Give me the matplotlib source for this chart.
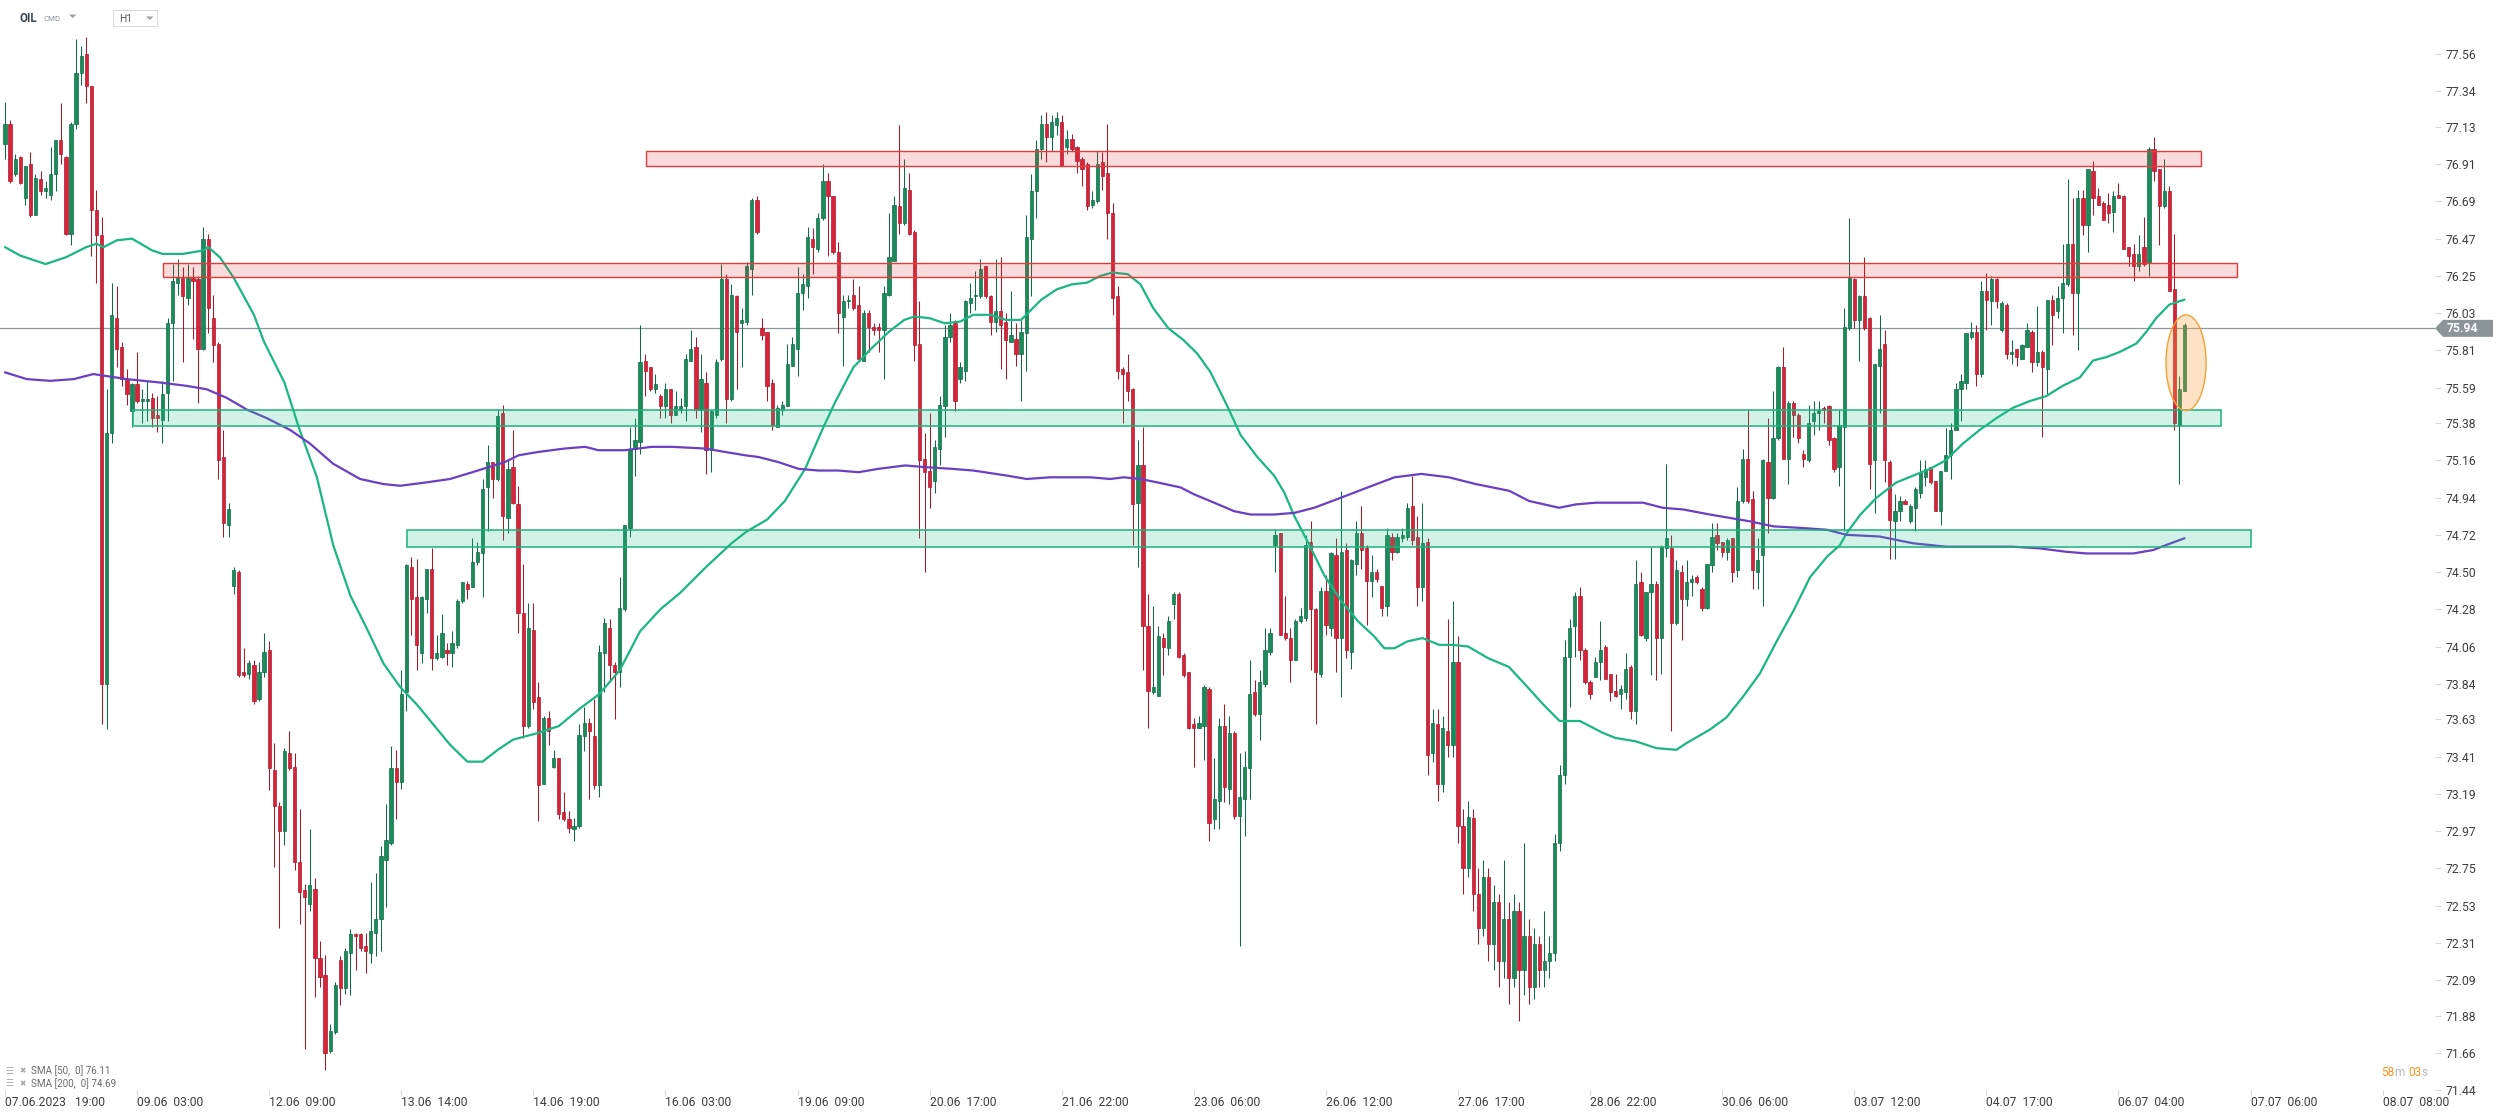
import matplotlib
matplotlib.use("Agg")
import matplotlib.pyplot as plt
import matplotlib.transforms as mtransforms
from matplotlib.patches import Rectangle, Ellipse, Polygon
import numpy as np

plt.rcParams["font.family"] = ["Roboto", "DejaVu Sans"]

# Hourly OIL candles, 07.06.2023 19:00 -> 06.07
opens = [
    77.03, 77.15, 76.85, 76.95, 76.71, 76.91, 76.61, 76.82, 76.75, 76.73,
    76.85, 77.05, 76.95, 76.50, 77.15, 77.45, 77.56, 77.37, 76.64, 76.49,
    73.84, 75.32, 76.00, 75.83, 75.64, 75.45, 75.61, 75.51, 75.51, 75.53,
    75.43, 75.40, 75.56, 75.97, 76.21, 76.24, 76.12, 76.24, 76.23, 75.82,
    76.47, 76.00, 75.85, 75.18, 74.78, 74.42, 74.50, 73.91, 73.90, 73.95,
    73.75, 73.91, 74.04, 73.33, 73.12, 72.97, 73.43, 73.35, 72.79, 72.62,
    72.54, 72.63, 72.22, 72.12, 71.67, 71.78, 72.21, 72.04, 72.25, 72.36,
    72.36, 72.29, 72.25, 72.37, 72.45, 72.80, 72.90, 73.34, 73.26, 73.79,
    74.53, 74.35, 74.02, 74.34, 74.52, 73.99, 74.00, 74.04, 74.02, 74.07,
    74.33, 74.43, 74.41, 74.56, 74.61, 75.00, 75.15, 75.05, 75.44, 74.82,
    75.12, 74.90, 74.26, 73.59, 74.16, 73.76, 73.25, 73.64, 73.35, 73.40,
    73.08, 73.04, 72.98, 73.00, 73.53, 73.61, 73.53, 73.24, 74.02, 74.17,
    73.95, 73.91, 74.28, 74.76, 75.23, 75.27, 75.75, 75.71, 75.58, 75.54,
    75.48, 75.58, 75.43, 75.46, 75.48, 75.75, 75.83, 75.46, 75.62, 75.22,
    75.43, 75.76, 76.23, 75.52, 76.13, 75.97, 75.98, 76.29, 76.70, 75.94,
    75.92, 75.62, 75.36, 75.46, 75.48, 75.72, 75.82, 76.15, 76.19, 76.47,
    76.41, 76.59, 76.81, 76.72, 76.39, 76.01, 76.10, 76.14, 76.08, 75.75,
    76.03, 75.95, 75.95, 75.93, 76.14, 76.34, 76.66, 76.56, 76.76, 76.51,
    75.85, 75.17, 75.10, 75.04, 75.23, 75.48, 75.89, 75.97, 75.64, 75.69,
    76.09, 76.13, 76.13, 76.31, 76.13, 75.98, 76.04, 75.98, 75.86, 75.88,
    75.79, 75.91, 76.47, 76.75, 77.00, 77.15, 77.07, 77.14, 77.16, 77.01,
    77.06, 77.01, 76.94, 76.91, 76.67, 76.69, 76.92, 76.86, 76.62, 76.13,
    75.70, 75.68, 75.58, 74.91, 75.13, 74.18, 73.79, 73.77, 74.11, 74.05,
    74.31, 74.37, 74.01, 73.91, 73.60, 73.58, 73.59, 73.81, 73.04, 73.15,
    73.59, 73.22, 73.55, 73.06, 73.16, 73.34, 73.79, 73.66, 73.84, 74.03,
    74.66, 74.73, 74.14, 74.11, 73.98, 74.21, 74.23, 74.68, 74.28, 73.90,
    74.39, 74.17, 74.60, 74.11, 74.63, 74.03, 74.55, 74.73, 74.64, 74.45,
    74.50, 74.42, 74.30, 74.71, 74.62, 74.70, 74.71, 74.89, 74.71, 74.41,
    74.68, 73.43, 73.60, 73.25, 73.56, 73.48, 73.97, 73.00, 72.75, 73.05,
    72.60, 72.40, 72.70, 72.30, 72.55, 72.20, 72.45, 72.10, 72.50, 72.15,
    72.35, 72.05, 72.30, 72.15, 72.20, 72.25, 72.90, 73.30, 74.00, 74.18,
    74.36, 74.04, 73.85, 73.88, 73.97, 74.06, 73.90, 73.80, 73.78, 73.79,
    73.94, 73.68, 74.44, 74.11, 74.38, 74.43, 74.11, 74.64, 74.64, 74.20,
    74.50, 74.34, 74.44, 74.47, 74.40, 74.29, 74.54, 74.72, 74.68, 74.62,
    74.70, 74.51, 74.92, 75.17, 74.93, 74.50, 74.60, 75.15, 74.94, 75.29,
    75.71, 75.17, 75.50, 75.43, 75.20, 75.16, 75.39, 75.44, 75.47, 75.48,
    75.29, 75.12, 75.36, 75.94, 76.23, 75.99, 76.13, 76.00, 75.16, 75.72,
    75.85, 75.15, 74.80, 74.86, 74.92, 74.80, 74.88, 74.97, 75.06, 75.12,
    75.04, 74.86, 75.10, 75.19, 75.34, 75.58, 75.62, 75.89, 75.92, 75.67,
    76.16, 76.10, 76.23, 75.93, 76.08, 75.79, 75.82, 75.76, 75.83, 75.92,
    75.74, 75.80, 75.70, 76.11, 76.04, 76.12, 76.20, 76.44, 76.15, 76.71,
    76.55, 76.87, 76.72, 76.68, 76.67, 76.63, 76.73, 76.72, 76.42, 76.38,
    76.31, 76.42, 76.33, 77.00, 76.88, 76.66, 76.75, 76.17, 75.37, 75.57,
]
highs = [
    77.28, 77.17, 76.97, 76.96, 76.90, 76.98, 76.85, 76.87, 76.81, 77.01,
    77.05, 77.27, 76.96, 77.16, 77.65, 77.61, 77.66, 77.37, 76.76, 76.60,
    75.58, 76.21, 76.19, 75.86, 75.70, 75.62, 75.80, 75.58, 75.63, 75.56,
    75.54, 75.63, 76.00, 76.32, 76.35, 76.30, 76.32, 76.30, 76.25, 76.54,
    76.50, 76.14, 75.86, 75.34, 74.91, 74.53, 74.51, 74.05, 73.98, 73.98,
    73.97, 74.14, 74.09, 73.49, 73.14, 73.46, 73.56, 73.43, 73.10, 72.66,
    72.98, 72.69, 72.32, 72.24, 71.83, 72.08, 72.23, 72.28, 72.39, 72.37,
    72.37, 72.37, 72.67, 72.72, 72.88, 73.13, 73.47, 73.45, 73.92, 74.55,
    74.59, 74.58, 74.36, 74.52, 74.64, 74.13, 74.25, 74.08, 74.15, 74.34,
    74.44, 74.45, 74.70, 74.68, 75.05, 75.25, 75.15, 75.46, 75.49, 75.17,
    75.34, 75.01, 74.55, 74.32, 74.32, 73.85, 73.65, 73.68, 73.45, 73.40,
    73.20, 73.09, 73.05, 73.60, 73.70, 73.64, 73.75, 74.07, 74.23, 74.22,
    73.97, 74.47, 74.78, 75.36, 75.41, 75.96, 75.79, 75.71, 75.67, 75.55,
    75.62, 75.58, 75.57, 75.53, 75.79, 75.93, 75.89, 75.79, 75.68, 75.46,
    75.76, 76.32, 76.26, 76.20, 76.14, 76.06, 76.33, 76.71, 76.72, 76.00,
    75.92, 75.64, 75.49, 75.51, 75.85, 75.89, 76.30, 76.26, 76.54, 76.53,
    76.62, 76.91, 76.86, 76.72, 76.45, 76.14, 76.14, 76.23, 76.19, 76.05,
    76.05, 75.97, 75.97, 76.19, 76.62, 76.72, 77.14, 76.94, 76.86, 76.52,
    76.10, 75.32, 75.44, 75.28, 75.54, 75.96, 76.03, 75.99, 75.74, 76.11,
    76.21, 76.28, 76.35, 76.31, 76.14, 76.35, 76.36, 76.03, 76.16, 75.97,
    75.99, 76.61, 76.85, 77.05, 77.20, 77.22, 77.20, 77.22, 77.20, 77.11,
    77.09, 77.02, 76.95, 76.92, 76.75, 76.99, 76.98, 77.15, 76.68, 76.19,
    75.71, 75.79, 75.59, 75.28, 75.36, 74.37, 74.30, 74.18, 74.14, 74.24,
    74.38, 74.38, 74.02, 73.91, 73.64, 73.65, 73.83, 73.82, 73.40, 73.64,
    73.72, 73.65, 73.56, 73.43, 73.44, 73.98, 73.86, 73.92, 74.17, 74.17,
    74.75, 74.73, 74.36, 74.17, 74.22, 74.29, 74.72, 74.80, 74.29, 74.41,
    74.48, 74.62, 74.70, 74.98, 74.67, 74.58, 74.80, 74.89, 74.66, 74.60,
    74.52, 74.42, 74.76, 74.73, 74.73, 74.76, 74.91, 75.07, 74.83, 74.91,
    74.70, 73.69, 73.69, 73.65, 74.22, 74.33, 74.12, 73.10, 73.15, 73.10,
    72.75, 72.80, 72.75, 72.65, 72.60, 72.80, 72.55, 72.60, 72.55, 72.90,
    72.45, 72.40, 72.35, 72.50, 72.35, 72.95, 73.36, 74.10, 74.22, 74.38,
    74.41, 74.05, 73.86, 74.00, 74.21, 74.07, 73.90, 73.90, 73.83, 74.02,
    73.95, 74.57, 74.50, 74.38, 74.65, 74.45, 74.66, 75.14, 74.72, 74.57,
    74.54, 74.57, 74.48, 74.48, 74.41, 74.55, 74.79, 74.79, 74.68, 74.70,
    74.70, 75.00, 75.23, 75.46, 74.98, 74.70, 75.17, 75.41, 75.57, 75.72,
    75.83, 75.51, 75.51, 75.44, 75.22, 75.49, 75.51, 75.51, 75.48, 75.49,
    75.30, 75.46, 76.06, 76.59, 76.24, 76.14, 76.36, 76.01, 75.73, 76.02,
    75.93, 75.16, 74.96, 74.95, 74.93, 74.90, 75.00, 75.16, 75.16, 75.12,
    75.04, 75.10, 75.35, 75.38, 75.62, 75.67, 75.91, 75.98, 75.96, 76.22,
    76.27, 76.25, 76.24, 76.10, 76.09, 75.87, 75.82, 75.85, 75.97, 75.93,
    76.07, 75.81, 76.11, 76.14, 76.19, 76.44, 76.82, 76.71, 76.76, 76.76,
    76.88, 76.93, 76.77, 76.69, 76.74, 76.75, 76.80, 76.73, 76.42, 76.44,
    76.49, 76.60, 77.01, 77.07, 76.88, 76.94, 76.78, 76.50, 75.66, 75.97,
]
lows = [
    76.94, 76.80, 76.84, 76.79, 76.67, 76.60, 76.61, 76.73, 76.71, 76.70,
    76.75, 76.91, 76.49, 76.43, 77.12, 77.38, 77.27, 76.37, 76.21, 73.60,
    73.57, 75.26, 75.71, 75.60, 75.49, 75.36, 75.50, 75.38, 75.39, 75.36,
    75.33, 75.26, 75.39, 75.63, 76.14, 75.74, 76.08, 75.88, 75.50, 75.81,
    75.91, 75.74, 75.05, 74.71, 74.71, 74.37, 73.88, 73.88, 73.87, 73.72,
    73.74, 73.88, 73.21, 72.76, 72.40, 72.89, 73.33, 72.74, 72.42, 71.68,
    72.50, 71.99, 72.05, 71.56, 71.66, 71.77, 71.94, 72.01, 72.00, 72.15,
    72.26, 72.13, 72.19, 72.23, 72.26, 72.52, 72.89, 73.04, 73.22, 73.68,
    74.13, 73.92, 73.96, 74.26, 73.92, 73.98, 73.99, 73.95, 73.94, 74.05,
    74.32, 74.34, 74.41, 74.54, 74.35, 74.74, 74.94, 75.04, 74.69, 74.73,
    74.90, 74.14, 73.52, 73.58, 73.69, 73.03, 73.25, 73.48, 73.34, 73.04,
    73.03, 72.96, 72.91, 72.99, 73.44, 73.16, 73.22, 73.17, 73.79, 73.85,
    73.63, 73.82, 74.27, 74.71, 75.07, 75.20, 75.54, 75.57, 75.56, 75.41,
    75.41, 75.38, 75.43, 75.44, 75.39, 75.75, 75.41, 75.33, 75.08, 75.09,
    75.41, 75.75, 75.38, 75.51, 75.58, 75.71, 75.96, 76.14, 76.50, 75.87,
    75.51, 75.34, 75.36, 75.43, 75.48, 75.72, 75.66, 76.05, 76.12, 76.26,
    76.39, 76.58, 76.37, 76.38, 75.91, 75.72, 76.06, 76.05, 75.75, 75.75,
    75.80, 75.90, 75.80, 75.64, 76.13, 76.34, 76.50, 76.55, 76.49, 75.75,
    74.70, 74.50, 74.88, 74.97, 75.13, 75.30, 75.86, 75.45, 75.62, 75.63,
    76.03, 76.05, 76.12, 76.12, 75.90, 75.92, 75.70, 75.64, 75.86, 75.72,
    75.51, 75.69, 76.13, 76.59, 76.94, 76.92, 76.99, 77.08, 76.90, 76.97,
    76.99, 76.86, 76.78, 76.64, 76.65, 76.68, 76.76, 76.47, 76.02, 75.64,
    75.38, 75.51, 74.66, 74.53, 73.92, 73.58, 73.78, 73.77, 73.89, 74.01,
    74.22, 73.99, 73.88, 73.57, 73.35, 73.58, 73.39, 72.91, 72.98, 72.98,
    73.14, 73.13, 73.04, 72.29, 72.94, 73.16, 73.65, 73.51, 73.82, 74.01,
    74.50, 74.13, 74.10, 73.85, 73.98, 74.20, 74.21, 73.92, 73.60, 73.88,
    74.13, 74.12, 73.91, 73.76, 73.99, 73.93, 74.48, 74.52, 74.19, 74.35,
    74.44, 74.24, 74.24, 74.57, 74.61, 74.68, 74.69, 74.66, 74.30, 74.33,
    73.30, 73.38, 73.15, 73.20, 73.41, 73.41, 72.90, 72.60, 72.70, 72.50,
    72.30, 72.35, 72.20, 72.15, 72.05, 72.10, 71.95, 72.05, 71.85, 72.00,
    71.95, 71.98, 72.05, 72.05, 72.10, 72.20, 72.85, 73.25, 73.70, 74.00,
    73.98, 73.84, 73.75, 73.88, 73.86, 73.87, 73.74, 73.76, 73.69, 73.75,
    73.63, 73.60, 74.12, 74.09, 73.89, 73.86, 73.90, 74.59, 73.56, 74.19,
    74.10, 74.30, 74.36, 74.43, 74.27, 74.28, 74.50, 74.63, 74.59, 74.57,
    74.44, 74.47, 74.91, 74.91, 74.40, 74.40, 74.30, 74.73, 74.93, 75.28,
    75.17, 75.02, 75.30, 75.26, 75.12, 75.15, 75.31, 75.34, 75.38, 75.25,
    75.09, 75.01, 74.74, 75.93, 75.94, 75.75, 75.93, 74.99, 74.85, 75.44,
    75.03, 74.58, 74.58, 74.80, 74.90, 74.79, 74.74, 74.94, 75.01, 75.02,
    74.86, 74.78, 75.10, 75.05, 75.34, 75.39, 75.58, 75.88, 75.60, 75.65,
    75.93, 75.96, 76.06, 75.92, 75.76, 75.73, 75.72, 75.76, 75.83, 75.68,
    75.72, 75.30, 75.55, 75.84, 76.00, 75.91, 76.19, 75.90, 75.81, 76.49,
    76.39, 76.61, 76.67, 76.58, 76.56, 76.51, 76.71, 76.41, 76.31, 76.22,
    76.28, 76.31, 76.25, 76.81, 76.43, 76.65, 76.16, 75.34, 75.02, 75.57,
]
closes = [
    77.15, 76.81, 76.94, 76.80, 76.90, 76.61, 76.83, 76.75, 76.77, 76.85,
    77.05, 76.97, 76.50, 77.15, 77.45, 77.55, 77.37, 76.64, 76.49, 73.84,
    75.32, 76.02, 75.82, 75.64, 75.55, 75.61, 75.51, 75.52, 75.52, 75.41,
    75.41, 75.55, 75.97, 76.22, 76.24, 76.13, 76.24, 76.22, 75.82, 76.47,
    76.06, 75.84, 75.16, 74.79, 74.87, 74.51, 73.89, 73.89, 73.96, 73.74,
    73.91, 74.03, 73.34, 73.12, 72.97, 73.44, 73.34, 72.79, 72.61, 72.58,
    72.65, 72.22, 72.11, 71.66, 71.79, 72.06, 72.04, 72.26, 72.36, 72.35,
    72.28, 72.26, 72.38, 72.45, 72.82, 72.92, 73.34, 73.26, 73.78, 74.54,
    74.34, 74.07, 74.35, 74.52, 73.99, 74.02, 74.14, 74.02, 74.08, 74.33,
    74.44, 74.40, 74.56, 74.62, 74.99, 75.15, 75.05, 75.42, 74.83, 75.11,
    74.91, 74.26, 73.59, 74.17, 73.73, 73.24, 73.64, 73.56, 73.40, 73.07,
    73.04, 72.99, 73.00, 73.54, 73.61, 73.56, 73.24, 74.03, 74.20, 73.95,
    73.91, 74.29, 74.78, 75.23, 75.28, 75.74, 75.69, 75.58, 75.61, 75.48,
    75.58, 75.43, 75.48, 75.48, 75.76, 75.82, 75.46, 75.64, 75.22, 75.45,
    75.74, 76.23, 75.52, 76.14, 75.92, 75.99, 76.31, 76.70, 76.51, 75.90,
    75.60, 75.37, 75.47, 75.49, 75.73, 75.85, 76.15, 76.20, 76.48, 76.42,
    76.59, 76.81, 76.72, 76.39, 76.03, 76.10, 76.11, 76.06, 75.76, 76.03,
    75.95, 75.93, 75.93, 76.15, 76.36, 76.67, 76.56, 76.77, 76.50, 75.84,
    75.16, 75.09, 75.00, 75.24, 75.49, 75.89, 75.96, 75.51, 75.71, 76.10,
    76.12, 76.14, 76.29, 76.13, 75.98, 76.04, 75.96, 75.87, 75.90, 75.79,
    75.92, 76.48, 76.75, 77.00, 77.15, 77.07, 77.16, 77.18, 76.90, 77.06,
    77.00, 76.93, 76.88, 76.66, 76.70, 76.91, 76.84, 76.62, 76.12, 75.69,
    75.67, 75.57, 74.90, 75.13, 74.18, 73.80, 73.82, 74.12, 74.06, 74.21,
    74.37, 74.00, 73.89, 73.58, 73.58, 73.61, 73.82, 73.02, 73.16, 73.59,
    73.23, 73.55, 73.06, 73.17, 73.35, 73.78, 73.66, 73.85, 74.04, 74.14,
    74.72, 74.13, 74.11, 73.98, 74.21, 74.24, 74.66, 74.28, 73.91, 74.39,
    74.19, 74.61, 74.11, 74.62, 74.04, 74.57, 74.73, 74.63, 74.45, 74.50,
    74.46, 74.29, 74.72, 74.62, 74.71, 74.72, 74.88, 74.69, 74.41, 74.67,
    73.42, 73.61, 73.25, 73.58, 73.48, 73.97, 73.00, 72.75, 73.05, 72.60,
    72.40, 72.70, 72.30, 72.55, 72.20, 72.45, 72.10, 72.50, 72.15, 72.35,
    72.05, 72.30, 72.15, 72.20, 72.25, 72.90, 73.30, 74.00, 74.17, 74.36,
    74.04, 73.85, 73.78, 73.97, 74.04, 73.87, 73.79, 73.77, 73.81, 73.93,
    73.68, 74.43, 74.13, 74.38, 74.43, 74.11, 74.65, 74.70, 74.20, 74.51,
    74.34, 74.44, 74.46, 74.44, 74.29, 74.55, 74.71, 74.67, 74.62, 74.69,
    74.50, 74.92, 75.17, 74.92, 74.51, 74.57, 75.16, 74.94, 75.29, 75.71,
    75.17, 75.50, 75.43, 75.29, 75.17, 75.38, 75.44, 75.46, 75.46, 75.28,
    75.11, 75.37, 75.95, 76.24, 75.99, 76.13, 75.94, 75.14, 75.73, 75.82,
    75.16, 74.81, 74.86, 74.92, 74.90, 74.89, 74.99, 75.09, 75.11, 75.03,
    74.86, 75.10, 75.19, 75.34, 75.58, 75.63, 75.91, 75.92, 75.67, 76.16,
    76.11, 76.23, 76.10, 76.09, 75.79, 75.80, 75.77, 75.84, 75.93, 75.74,
    75.80, 75.71, 76.11, 76.02, 76.12, 76.21, 76.44, 76.15, 76.71, 76.55,
    76.88, 76.71, 76.67, 76.58, 76.62, 76.72, 76.71, 76.41, 76.37, 76.31,
    76.38, 76.32, 77.00, 76.87, 76.66, 76.75, 76.16, 75.38, 75.58, 75.96,
]

# moving averages (bar index, price)
sma50_bar = [0, 3, 8, 12, 16, 18, 19.4, 22, 25, 29, 31, 35, 39, 40, 42.3, 45, 49, 51, 55, 58,
             61.4, 64.6, 68, 71, 74.5, 77.8, 81, 84.3, 87.6, 91, 94, 97, 100, 105, 109, 113, 117,
             121, 125, 129, 133, 138, 143, 146, 150, 153.5, 157.5, 161, 163.5, 167, 170.5, 174,
             177, 179, 182, 185, 188, 190.6, 194, 197, 200, 201, 204, 207, 210, 213, 215.6, 218,
             221, 223.5, 226, 229, 232, 234.7, 237.3, 240.6, 243.2, 246.5, 249.8, 251.8, 253.8,
             256.4, 259.7, 263, 266.3, 269.5, 271.5, 273.5, 276, 279, 282.3, 285, 288, 292, 296,
             299.4, 302.7, 306, 310, 314.5, 317, 321, 325, 329, 331, 335.6, 338.8, 342, 345.4,
             348.7, 352, 355.3, 358.6, 361.2, 362.5, 365.2, 368.4, 372.3, 375.6, 378.9, 382,
             385.4, 388.7, 392, 395.2, 398.5, 401.8, 405, 408.4, 411, 413.6, 416.2, 419.5, 421.5,
             423.4, 426, 429]
sma50_val = [76.42, 76.37, 76.32, 76.36, 76.42, 76.44, 76.42, 76.46, 76.47, 76.40, 76.38, 76.38,
             76.40, 76.42, 76.36, 76.24, 76.02, 75.86, 75.62, 75.34, 75.06, 74.66, 74.36, 74.18,
             73.96, 73.82, 73.72, 73.60, 73.48, 73.38, 73.38, 73.45, 73.51, 73.55, 73.59, 73.69,
             73.78, 73.92, 74.15, 74.28, 74.38, 74.53, 74.67, 74.74, 74.81, 74.92, 75.11, 75.35,
             75.51, 75.71, 75.82, 75.92, 75.99, 76.01, 76.00, 75.97, 75.98, 76.02, 76.02, 75.99,
             75.99, 76.02, 76.11, 76.17, 76.20, 76.21, 76.25, 76.27, 76.26, 76.20, 76.06, 75.94,
             75.87, 75.79, 75.68, 75.48, 75.31, 75.18, 75.07, 74.97, 74.83, 74.68, 74.48, 74.33,
             74.21, 74.12, 74.05, 74.05, 74.09, 74.11, 74.07, 74.07, 74.06, 73.99, 73.94, 73.83,
             73.72, 73.62, 73.62, 73.55, 73.52, 73.50, 73.46, 73.45, 73.49, 73.57, 73.64, 73.76,
             73.90, 74.09, 74.27, 74.47, 74.59, 74.66, 74.73, 74.84, 74.94, 75.03, 75.07, 75.11,
             75.16, 75.26, 75.34, 75.41, 75.47, 75.51, 75.54, 75.60, 75.65, 75.75, 75.77, 75.80,
             75.85, 75.92, 76.00, 76.08, 76.11]
sma200_bar = [0, 4.3, 8.9, 13.5, 17.4, 24, 30.5, 35.8, 39.7, 43.6, 47.6, 51.5, 56.1, 60, 64.6,
              69.9, 74.5, 77.8, 83, 87.6, 92, 98.4, 101.1, 105, 110.2, 114.2, 116.8, 122, 127.3,
              131.2, 137.8, 141.7, 145.7, 148.3, 152.2, 156.2, 160.1, 164, 168, 171.9, 177.2,
              181.1, 186.4, 190.6, 197.2, 201.1, 205.7, 213.6, 217.6, 220.2, 223.5, 226.8, 231.4,
              234, 238, 241.9, 245.2, 249.8, 253.8, 257.7, 263, 268.2, 273.5, 278.8, 284.2, 289.5,
              296.1, 300, 305.9, 309.2, 313.2, 319.1, 322.4, 326.3, 330.3, 335.6, 339.5, 343.4,
              348.1, 354, 358.6, 362.5, 369, 375.6, 382.1, 395.2, 400.5, 405.7, 409.7, 414.9,
              418.9, 422.8, 425.4, 429]
sma200_val = [75.68, 75.64, 75.63, 75.64, 75.67, 75.64, 75.62, 75.60, 75.58, 75.53, 75.46, 75.41,
              75.34, 75.26, 75.14, 75.05, 75.02, 75.01, 75.03, 75.05, 75.09, 75.15, 75.19, 75.21,
              75.23, 75.24, 75.22, 75.22, 75.24, 75.24, 75.23, 75.21, 75.19, 75.18, 75.15, 75.11,
              75.10, 75.10, 75.09, 75.11, 75.13, 75.12, 75.11, 75.10, 75.07, 75.05, 75.06, 75.06,
              75.05, 75.06, 75.05, 75.03, 75.00, 74.96, 74.91, 74.86, 74.84, 74.84, 74.85, 74.88,
              74.94, 75.00, 75.06, 75.08, 75.06, 75.02, 74.98, 74.92, 74.88, 74.90, 74.91, 74.91,
              74.91, 74.88, 74.87, 74.84, 74.82, 74.80, 74.77, 74.76, 74.75, 74.72, 74.71, 74.67,
              74.65, 74.65, 74.64, 74.62, 74.61, 74.61, 74.61, 74.63, 74.66, 74.70]

last_price = 75.94
sma50_last = 76.11
sma200_last = 74.69

date_labels = ["07.06.2023   19:00", "09.06  03:00", "12.06  09:00", "13.06  14:00",
               "14.06  19:00", "16.06  03:00", "19.06  09:00", "20.06  17:00", "21.06  22:00",
               "23.06  06:00", "26.06  12:00", "27.06  17:00", "28.06  22:00", "30.06  06:00",
               "03.07  12:00", "04.07  17:00", "06.07  04:00", "07.07  06:00", "08.07  08:00"]
bars_per_label = 26

price_labels = ["77.56", "77.34", "77.13", "76.91", "76.69", "76.47", "76.25", "76.03", "75.81",
                "75.59", "75.38", "75.16", "74.94", "74.72", "74.50", "74.28", "74.06", "73.84",
                "73.63", "73.41", "73.19", "72.97", "72.75", "72.53", "72.31", "72.09", "71.88",
                "71.66", "71.44"]

# drawn zones: (first bar, last bar, low price, high price)
red_zones = [(126.1, 432.3, 76.897, 76.986), (31.2, 439.3, 76.242, 76.324)]
green_zones = [(25.1, 436.2, 75.362, 75.455), (79.2, 442.0, 74.647, 74.749)]
# marker ellipse: centre bar, centre price, width (bars), height (price)
marker = (429.3, 75.737, 7.9, 0.565)

countdown = [("58", "num"), ("m", "unit"), ("03", "num"), ("s", "unit")]

W, H = 2506, 1117
UP, UP_EDGE = "#1a8b5b", "#0f6b45"
DOWN, DOWN_EDGE = "#d8233b", "#a9192c"
SMA50_COLOR = "#1bb684"
SMA200_COLOR = "#6a3fc3"
TEXT = "#3e3e3e"


def fx(px):
    return px / W


def fy(py):
    return 1 - py / H


def triangle(fig, x, y, w=7.5, h=3.5, color="#9aa0a6"):
    pts = [(fx(x), fy(y)), (fx(x + w), fy(y)), (fx(x + w / 2), fy(y + h))]
    fig.add_artist(Polygon(pts, closed=True, transform=fig.transFigure,
                           facecolor=color, edgecolor="none"))


def draw_candles(ax):
    o, h, l, c = (np.asarray(a) for a in (opens, highs, lows, closes))
    idx = np.arange(len(c))
    up = c >= o
    face = np.where(up, UP, DOWN)
    edge = np.where(up, UP_EDGE, DOWN_EDGE)
    ax.vlines(idx, l, h, colors=edge, linewidth=0.75, zorder=2)
    body_lo = np.minimum(o, c)
    body_h = np.maximum(np.abs(c - o), 0.009)
    ax.bar(idx, body_h, bottom=body_lo, width=0.64, color=face,
           edgecolor=edge, linewidth=0.5, zorder=3)


def draw_zones(ax):
    for x0, x1, y0, y1 in red_zones:
        ax.add_patch(Rectangle((x0, y0), x1 - x0, y1 - y0, facecolor=(0.91, 0.22, 0.24, 0.18),
                               edgecolor="#e53a3a", linewidth=1.0, zorder=6))
    for x0, x1, y0, y1 in green_zones:
        ax.add_patch(Rectangle((x0, y0), x1 - x0, y1 - y0, facecolor=(0.15, 0.76, 0.54, 0.20),
                               edgecolor="#1cb27c", linewidth=1.1, zorder=6))
    cx, cy, w, h = marker
    ax.add_patch(Ellipse((cx, cy), w, h, facecolor=(0.98, 0.63, 0.25, 0.30),
                         edgecolor="#f5a136", linewidth=1.0, zorder=7))


def draw_price_tag(ax):
    trans = mtransforms.blended_transform_factory(ax.transAxes, ax.transData)
    aw = ax.get_position().width * W
    half = 8.5 / 169.3
    pts = [(1.0, last_price), (1 + 8 / aw, last_price + half), (1 + 58 / aw, last_price + half),
           (1 + 58 / aw, last_price - half), (1 + 8 / aw, last_price - half)]
    ax.add_patch(Polygon(pts, closed=True, transform=trans, facecolor="#8b9598",
                         edgecolor="none", clip_on=False, zorder=10))
    ax.text(1 + 12 / aw, last_price, f"{last_price:.2f}", transform=trans, color="white",
            fontsize=8.7, fontweight="bold", va="center", ha="left", clip_on=False, zorder=11)


def draw_header(fig):
    fig.text(fx(20), fy(18), "OIL", fontsize=8.4, fontweight="bold", color="#3b4550",
             va="center", ha="left")
    fig.text(fx(43), fy(19), "CMD", fontsize=5.7, color="#8c939a", va="center", ha="left")
    triangle(fig, 69, 14.5)
    fig.add_artist(Rectangle((fx(113), fy(26)), 44 / W, 16 / H, transform=fig.transFigure,
                             facecolor="white", edgecolor="#dcdcdc", linewidth=0.8))
    fig.text(fx(119), fy(19.5), "H1", fontsize=7.3, color="#555555", va="center", ha="left")
    triangle(fig, 146, 16.5)


def draw_footer(fig):
    rows = [(1071, f"SMA [50,  0] {sma50_last:.2f}"), (1084, f"SMA [200,  0] {sma200_last:.2f}")]
    for y, label in rows:
        fig.text(fx(5), fy(y), "\u2630", fontsize=6.5, color="#a3a8ad", va="center",
                 ha="left", family="DejaVu Sans")
        fig.text(fx(19.5), fy(y), "\u2716", fontsize=5.5, color="#a3a8ad", va="center",
                 ha="left", family="DejaVu Sans")
        fig.text(fx(31), fy(y), label, fontsize=7.1, color="#6b6b6b", va="center", ha="left")

    # candle countdown, pieces laid out one after another
    renderer = fig.canvas.get_renderer()
    colors = {"num": "#f7931e", "unit": "#b5b9bd"}
    x = 2381.0
    for i, (txt, kind) in enumerate(countdown):
        if i == 2:
            x += 4
        t = fig.text(fx(x), fy(1073), txt, fontsize=8.6, color=colors[kind],
                     va="center", ha="left")
        x = t.get_window_extent(renderer).x1


def main():
    fig = plt.figure(figsize=(W / 100, H / 100), dpi=100)
    fig.patch.set_facecolor("white")
    ax = fig.add_axes([0, 27 / H, 2435 / W, 1090 / H])
    ax.set_facecolor("white")

    ax.axhline(last_price, color="#8d979b", linewidth=0.9, zorder=1)
    draw_candles(ax)
    ax.plot(sma50_bar, sma50_val, color=SMA50_COLOR, linewidth=1.6, zorder=4,
            solid_capstyle="round")
    ax.plot(sma200_bar, sma200_val, color=SMA200_COLOR, linewidth=1.6, zorder=4,
            solid_capstyle="round")
    draw_zones(ax)

    ax.set_xlim(-0.98, 478.3)
    ax.set_ylim(71.442, 77.880)
    for s in ax.spines.values():
        s.set_visible(False)

    ax.set_xticks(np.arange(len(date_labels)) * bars_per_label)
    ax.set_xticklabels(date_labels, ha="left")
    ax.yaxis.tick_right()
    ax.set_yticks([float(p) for p in price_labels])
    ax.set_yticklabels(price_labels)
    ax.tick_params(axis="x", direction="out", length=3.5, width=0.8, color="#d6d6d6",
                   labelsize=8.7, labelcolor=TEXT, pad=0.5)
    ax.tick_params(axis="y", direction="out", length=4, width=0.8, color="#d6d6d6",
                   labelsize=8.7, labelcolor=TEXT, pad=3.5)

    draw_price_tag(ax)
    draw_header(fig)
    draw_footer(fig)

    fig.savefig("out.png", dpi=100)
    plt.close(fig)


if __name__ == "__main__":
    main()
